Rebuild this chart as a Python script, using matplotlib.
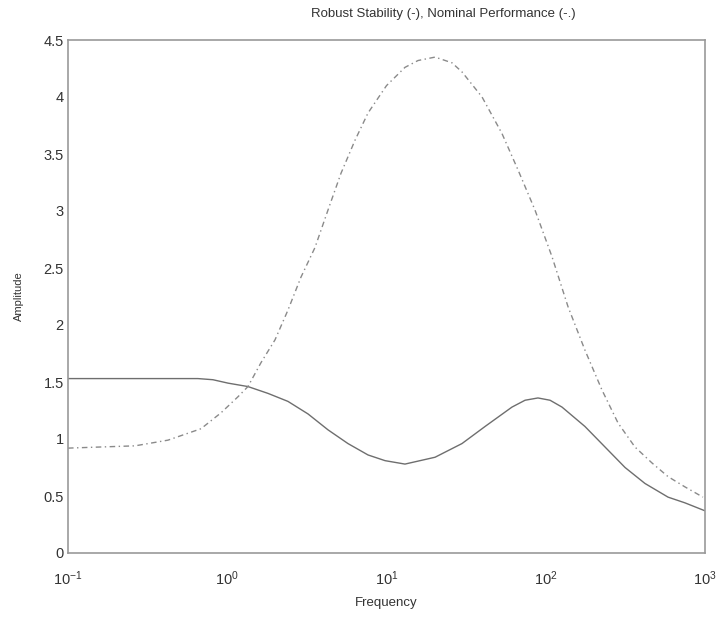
import matplotlib
matplotlib.use("Agg")
import matplotlib.pyplot as plt
import numpy as np

plt.rcParams['font.family'] = ['Liberation Sans', 'DejaVu Sans']
plt.rcParams['mathtext.fontset'] = 'custom'
plt.rcParams['mathtext.rm'] = 'Liberation Sans'
plt.rcParams['mathtext.it'] = 'Liberation Sans'

# Robust stability (solid): log10(frequency), amplitude
rs_logf = [-1.0, -0.5, -0.184, -0.09, 0.005, 0.130, 0.256, 0.381, 0.507, 0.633, 0.758,
           0.884, 0.991, 1.116, 1.305, 1.474, 1.619, 1.788, 1.87, 1.951, 2.027, 2.102,
           2.246, 2.372, 2.498, 2.623, 2.768, 2.874, 3.0]
rs_amp = [1.53, 1.53, 1.53, 1.52, 1.49, 1.46, 1.40, 1.33, 1.22, 1.08, 0.96,
          0.86, 0.81, 0.78, 0.84, 0.96, 1.11, 1.28, 1.34, 1.36, 1.34, 1.28,
          1.11, 0.93, 0.75, 0.61, 0.49, 0.44, 0.37]

# Nominal performance (dash-dot)
np_logf = [-1.0, -0.793, -0.579, -0.372, -0.165, -0.039, 0.067, 0.130, 0.212, 0.300,
           0.381, 0.463, 0.551, 0.633, 0.714, 0.802, 0.884, 1.0, 1.116, 1.198, 1.305,
           1.411, 1.474, 1.600, 1.725, 1.826, 1.932, 2.039, 2.140, 2.246, 2.353, 2.454,
           2.560, 2.667, 2.768, 2.874, 2.987]
np_amp = [0.92, 0.93, 0.94, 0.99, 1.09, 1.23, 1.37, 1.46, 1.67, 1.87,
          2.13, 2.42, 2.68, 3.01, 3.33, 3.62, 3.86, 4.10, 4.26, 4.32, 4.35,
          4.30, 4.22, 4.00, 3.68, 3.36, 3.01, 2.60, 2.16, 1.78, 1.43, 1.14,
          0.93, 0.79, 0.67, 0.58, 0.49]

y_ticks = [0, 0.5, 1, 1.5, 2, 2.5, 3, 3.5, 4, 4.5]
y_ticklabels = ['0', '0.5', '1', '1.5', '2', '2.5', '3', '3.5', '4', '4.5']
x_ticks = [0.1, 1, 10, 100, 1000]
x_ticklabels = [r'$10^{-1}$', r'$10^{0}$', r'$10^{1}$', r'$10^{2}$', r'$10^{3}$']

fig = plt.figure(figsize=(7.28, 6.17), dpi=100)
W, H = 728, 617
left, right, top, bottom = 68, 705, 40, 553
ax = fig.add_axes([left / W, 1 - bottom / H, (right - left) / W, (bottom - top) / H])

ax.plot(10 ** np.array(rs_logf), rs_amp, '-', color='#6e6e6e', lw=1.0,
        solid_joinstyle='round')
ax.plot(10 ** np.array(np_logf), np_amp, '-.', color='#8a8a8a', lw=1.0,
        dashes=(4, 2.5, 1, 2.5))

ax.set_xscale('log')
ax.set_xlim(0.1, 1000)
ax.set_ylim(0, 4.5)
ax.set_xticks(x_ticks)
ax.set_xticklabels(x_ticklabels)
ax.xaxis.set_minor_locator(matplotlib.ticker.NullLocator())
ax.set_yticks(y_ticks)
ax.set_yticklabels(y_ticklabels)

for s in ax.spines.values():
    s.set_color('#999999')
    s.set_linewidth(1.2)
ax.tick_params(axis='both', length=0, colors='#333333', labelsize=10.5)
ax.tick_params(axis='x', pad=12)
ax.tick_params(axis='y', pad=3)

ax.set_xlabel('Frequency', fontsize=9.5, color='#333333', labelpad=6)
ax.set_ylabel('Amplitude', fontsize=8, color='#333333', labelpad=14)
fig.text(443 / W, 1 - 14 / H, 'Robust Stability (-), Nominal Performance (-.)',
         ha='center', va='center', fontsize=9.5, color='#333333')

fig.savefig('out.png', dpi=100)
